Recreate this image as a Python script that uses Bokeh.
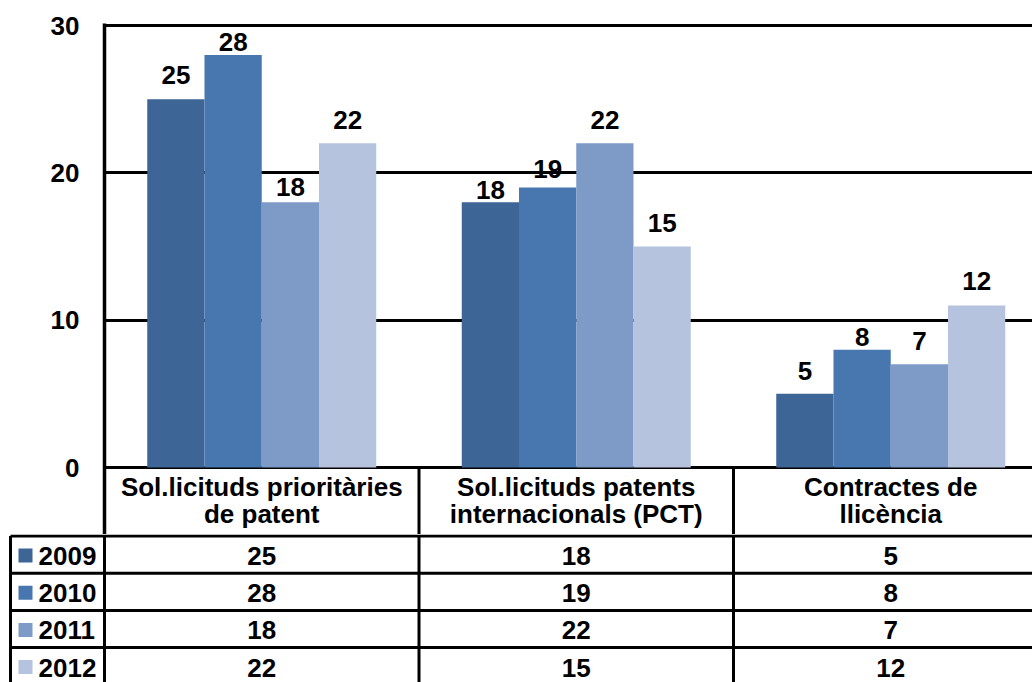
import numpy as np
from bokeh.plotting import figure
from bokeh.layouts import column
from bokeh.models import Range1d, FixedTicker, ColumnDataSource
from bokeh.core.properties import value
from bokeh.embed import file_html
from bokeh.resources import INLINE

# ---------------- data ----------------
categories = ["Sol.licituds prioritàries\nde patent",
              "Sol.licituds patents\ninternacionals (PCT)",
              "Contractes de\nllicència"]
years = ["2009", "2010", "2011", "2012"]
v2009 = [25, 18, 5]
v2010 = [28, 19, 8]
v2011 = [18, 22, 7]
v2012 = [22, 15, 12]
# heights at which the reference actually draws the 2012 bars
# (its last bar stands at 11 although it is labelled 12)
bar2012 = [22, 15, 11]
y_ticks = [0, 10, 20, 30]

series = [v2009, v2010, v2011, v2012]
bar_heights = [v2009, v2010, v2011, bar2012]

# ---------------- style / layout ----------------
colors = ["#3d6596", "#4877af", "#7d9bc6", "#b5c3de"]
FONT = value("Liberation Sans")
FS = "26px"
W = 1032
TOP_H, BOT_H = 534, 148
LEFT, TOP = 104, 23           # frame offset of the chart
PPU = 442 / 30                # pixels per value unit
CAT = 314.5                   # pixels per category
BAR_W = 57.25 / CAT
x_end = (W - LEFT) / CAT
y_end = 30 + 2 / PPU
y_start = y_end - (TOP_H - TOP) / PPU
# gap (px) between bar top and the centre of its label, per series / category
GAP = [[24, 12.5, 23], [13, 18.5, 13], [15, 23, 23.5], [23.5, 24, 24]]
LINE_W = 3

cx = np.arange(len(categories)) + 0.5
offsets = (np.arange(len(years)) - 1.5) * BAR_W
text_kw = dict(text_font=FONT, text_font_size=FS, text_font_style="bold",
               text_color="black", text_baseline="middle")


def Y(py):  # chart: page pixel -> data y
    return y_end - (py - TOP) / PPU


# ================= chart =================
p = figure(width=W, height=TOP_H, output_backend="svg", toolbar_location=None,
           x_range=Range1d(0, x_end), y_range=Range1d(y_start, y_end),
           x_axis_location=None, y_axis_location="left",
           min_border_left=LEFT, min_border_top=TOP,
           min_border_right=0, min_border_bottom=0, frame_align=False)
p.outline_line_color = None
p.xgrid.visible = False
p.ygrid.ticker = FixedTicker(ticks=y_ticks)
p.ygrid.grid_line_color = "black"
p.ygrid.grid_line_width = LINE_W

ax = p.yaxis[0]
ax.ticker = FixedTicker(ticks=y_ticks)
ax.axis_line_color = "black"
ax.axis_line_width = 3.5
ax.major_tick_line_color = None
ax.minor_tick_line_color = None
ax.major_tick_out = 0
ax.major_tick_in = 0
ax.major_label_standoff = 25
ax.major_label_text_font = "Liberation Sans"
ax.major_label_text_font_size = FS
ax.major_label_text_font_style = "bold"
ax.major_label_text_color = "black"

for j, yr in enumerate(years):
    src = ColumnDataSource(dict(
        x=cx + offsets[j], top=bar_heights[j],
        label=[str(v) for v in series[j]],
        lift=[-g for g in GAP[j]]))
    p.vbar(x="x", top="top", bottom=0, width=BAR_W, source=src,
           fill_color=colors[j], line_color=None)
    p.text(x="x", y="top", text="label", y_offset="lift", source=src,
           text_align="center", **text_kw)

# category separators inside the header row
seps = list(range(1, len(categories)))
p.segment(x0=seps, x1=seps, y0=[0] * len(seps), y1=[y_start] * len(seps),
          line_color="black", line_width=LINE_W)

# header (category names, two lines)
first = [c.split("\n")[0] for c in categories]
second = [c.split("\n")[1] for c in categories]
for lines, cy in ((first, 486), (second, 513)):
    p.text(x=cx, y=[Y(cy)] * len(cx), text=lines, text_align="center",
           **text_kw)

# ================= data table rows =================
ROW_H = 37.2
ROW0 = 535.5                 # page y of the first row line (its centre)
t = figure(width=W, height=BOT_H, output_backend="svg", toolbar_location=None,
           x_range=Range1d(-LEFT / CAT, x_end),
           y_range=Range1d((TOP_H + BOT_H - ROW0) / ROW_H, (TOP_H - ROW0) / ROW_H),
           x_axis_location=None, y_axis_location=None,
           min_border_left=0, min_border_top=0,
           min_border_right=0, min_border_bottom=0, frame_align=False)
t.outline_line_color = None
t.xgrid.visible = False
t.ygrid.visible = False

n = len(years)
rows = np.arange(n)
x_left = (10 - LEFT) / CAT
t.segment(x0=[x_left] * n, x1=[x_end] * n, y0=rows, y1=rows,
          line_color="black", line_width=LINE_W)
vx = [x_left, 0] + seps
t.segment(x0=vx, x1=vx, y0=[0] * len(vx), y1=[n + 1] * len(vx),
          line_color="black", line_width=LINE_W)

for j, yr in enumerate(years):
    yc = j + 20 / ROW_H
    t.text(x=cx, y=[yc] * len(cx), text=[str(v) for v in series[j]],
           text_align="center", **text_kw)
    t.scatter(x=[(25 - LEFT) / CAT], y=[j + 19.5 / ROW_H], marker="square",
              size=14, fill_color=colors[j], line_color=None)
    t.text(x=[(38 - LEFT) / CAT], y=[yc], text=[yr], text_align="left",
           **text_kw)

layout = column(p, t, spacing=0)
open("out.html", "w").write(file_html(layout, INLINE))
